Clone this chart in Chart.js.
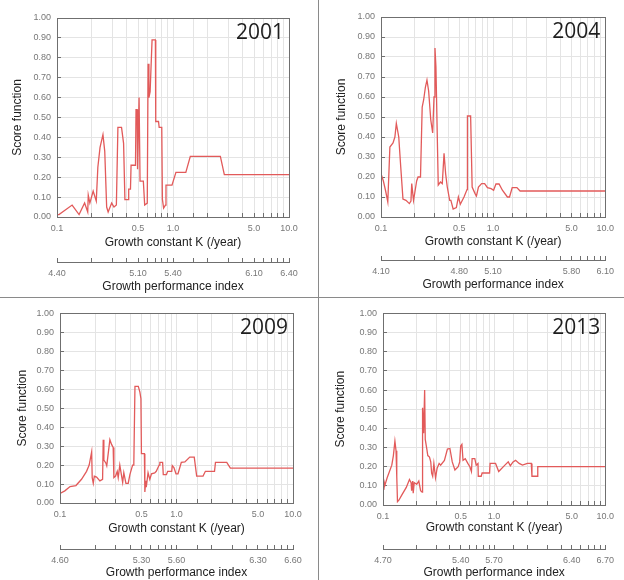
<!DOCTYPE html>
<html>
<head>
<meta charset="utf-8">
<script src="https://cdn.jsdelivr.net/npm/chart.js@4.4.1/dist/chart.umd.min.js"></script>
<style>
  body { margin: 0; background: #fff; }
  #wrap { position: relative; width: 624px; height: 580px; overflow: hidden; }
  canvas { position: absolute; }
  .vline { position: absolute; left: 318px; top: 0; width: 1px; height: 580px; background: #8a8a8a; }
  .hline { position: absolute; left: 0; top: 297px; width: 624px; height: 1px; background: #8a8a8a; }
</style>
</head>
<body>
<div id="wrap">
  <canvas id="c2001" width="312" height="297" style="left:0;top:0"></canvas>
  <canvas id="c2004" width="304" height="297" style="left:320px;top:0"></canvas>
  <canvas id="c2009" width="312" height="282" style="left:0;top:298px"></canvas>
  <canvas id="c2013" width="304" height="282" style="left:320px;top:298px"></canvas>
  <div class="vline"></div>
  <div class="hline"></div>
</div>
<script>
// labelled ticks, shared by both bottom axes
var kTicks = [0.1, 0.5, 1, 5, 10];
var kLabels = ['0.1', '0.5', '1.0', '5.0', '10.0'];

var phi2001 = ['4.40', '5.10', '5.40', '6.10', '6.40'];
var phi2004 = ['4.10', '4.80', '5.10', '5.80', '6.10'];
var phi2009 = ['4.60', '5.30', '5.60', '6.30', '6.60'];
var phi2013 = ['4.70', '5.40', '5.70', '6.40', '6.70'];

// score curves: K (/year) and score
var k2001 = [0.1, 0.104, 0.135, 0.155, 0.173, 0.184, 0.186, 0.192, 0.205, 0.218, 0.225, 0.235, 0.249, 0.258, 0.268, 0.276, 0.296, 0.31, 0.325, 0.335, 0.36, 0.375, 0.385, 0.41, 0.415, 0.43, 0.435, 0.475, 0.48, 0.49, 0.495, 0.51, 0.52, 0.555, 0.57, 0.6, 0.61, 0.62, 0.635, 0.66, 0.705, 0.71, 0.75, 0.76, 0.8, 0.81, 0.83, 0.86, 0.87, 0.98, 1.06, 1.29, 1.41, 2.56, 2.77, 10];
var s2001 = [0.012, 0.012, 0.06, 0.012, 0.07, 0.025, 0.11, 0.07, 0.13, 0.08, 0.25, 0.35, 0.414, 0.33, 0.05, 0.025, 0.07, 0.05, 0.06, 0.45, 0.45, 0.37, 0.087, 0.087, 0.14, 0.14, 0.26, 0.26, 0.54, 0.54, 0.24, 0.6, 0.18, 0.18, 0.06, 0.07, 0.77, 0.6, 0.63, 0.89, 0.89, 0.48, 0.48, 0.45, 0.45, 0.09, 0.045, 0.06, 0.16, 0.16, 0.224, 0.224, 0.305, 0.305, 0.213, 0.213];

var k2004 = [0.1, 0.105, 0.11, 0.115, 0.12, 0.128, 0.133, 0.137, 0.144, 0.15, 0.157, 0.167, 0.179, 0.185, 0.188, 0.195, 0.2, 0.208, 0.214, 0.225, 0.233, 0.24, 0.249, 0.257, 0.266, 0.278, 0.289, 0.297, 0.303, 0.309, 0.324, 0.339, 0.352, 0.365, 0.377, 0.39, 0.41, 0.42, 0.44, 0.47, 0.49, 0.51, 0.55, 0.585, 0.59, 0.63, 0.65, 0.69, 0.71, 0.74, 0.79, 0.84, 0.89, 0.96, 1.01, 1.06, 1.13, 1.21, 1.34, 1.4, 1.48, 1.63, 1.74, 10];
var s2004 = [0.217, 0.18, 0.13, 0.075, 0.35, 0.37, 0.4, 0.468, 0.4, 0.25, 0.09, 0.083, 0.067, 0.08, 0.167, 0.083, 0.12, 0.18, 0.2, 0.2, 0.55, 0.585, 0.65, 0.685, 0.63, 0.485, 0.42, 0.6, 0.845, 0.75, 0.16, 0.175, 0.167, 0.318, 0.217, 0.15, 0.083, 0.083, 0.04, 0.047, 0.1, 0.064, 0.1, 0.137, 0.505, 0.505, 0.15, 0.117, 0.105, 0.15, 0.167, 0.167, 0.147, 0.142, 0.134, 0.165, 0.165, 0.134, 0.1, 0.1, 0.147, 0.147, 0.13, 0.13];

var k2009 = [0.1, 0.11, 0.122, 0.137, 0.153, 0.169, 0.178, 0.187, 0.189, 0.193, 0.197, 0.206, 0.22, 0.232, 0.235, 0.238, 0.248, 0.252, 0.268, 0.277, 0.286, 0.29, 0.3, 0.31, 0.316, 0.326, 0.345, 0.353, 0.368, 0.385, 0.398, 0.42, 0.43, 0.44, 0.47, 0.485, 0.495, 0.5, 0.53, 0.535, 0.545, 0.55, 0.57, 0.59, 0.61, 0.65, 0.67, 0.71, 0.72, 0.76, 0.77, 0.82, 0.84, 0.91, 0.92, 0.95, 0.99, 1.03, 1.1, 1.18, 1.3, 1.42, 1.49, 1.69, 1.77, 2.12, 2.16, 2.7, 2.9, 10];
var s2009 = [0.05, 0.064, 0.087, 0.092, 0.125, 0.167, 0.2, 0.27, 0.134, 0.104, 0.142, 0.137, 0.117, 0.125, 0.334, 0.226, 0.21, 0.197, 0.334, 0.309, 0.293, 0.134, 0.142, 0.167, 0.134, 0.2, 0.109, 0.16, 0.104, 0.104, 0.15, 0.2, 0.2, 0.615, 0.615, 0.585, 0.55, 0.26, 0.26, 0.058, 0.117, 0.083, 0.16, 0.125, 0.154, 0.159, 0.167, 0.2, 0.214, 0.214, 0.15, 0.15, 0.167, 0.167, 0.197, 0.187, 0.154, 0.154, 0.214, 0.217, 0.242, 0.242, 0.142, 0.142, 0.167, 0.167, 0.214, 0.214, 0.184, 0.184];

var k2013 = [0.1, 0.102, 0.104, 0.109, 0.12, 0.124, 0.128, 0.131, 0.133, 0.135, 0.139, 0.147, 0.162, 0.173, 0.179, 0.181, 0.185, 0.187, 0.191, 0.201, 0.21, 0.218, 0.225, 0.227, 0.232, 0.237, 0.24, 0.248, 0.253, 0.262, 0.269, 0.274, 0.28, 0.287, 0.297, 0.307, 0.32, 0.33, 0.357, 0.38, 0.4, 0.42, 0.444, 0.475, 0.49, 0.5, 0.513, 0.525, 0.55, 0.58, 0.605, 0.625, 0.634, 0.67, 0.69, 0.716, 0.72, 0.765, 0.78, 0.91, 0.92, 1.03, 1.1, 1.25, 1.34, 1.4, 1.48, 1.56, 1.68, 1.8, 1.99, 2.16, 2.19, 2.45, 2.47, 10];
var s2013 = [0.083, 0.125, 0.103, 0.142, 0.208, 0.258, 0.333, 0.283, 0.15, 0.017, 0.025, 0.05, 0.092, 0.133, 0.117, 0.075, 0.125, 0.062, 0.117, 0.108, 0.125, 0.075, 0.067, 0.508, 0.375, 0.6, 0.342, 0.292, 0.258, 0.25, 0.225, 0.167, 0.15, 0.217, 0.142, 0.192, 0.217, 0.208, 0.233, 0.292, 0.295, 0.225, 0.183, 0.2, 0.225, 0.308, 0.317, 0.233, 0.242, 0.217, 0.2, 0.175, 0.242, 0.242, 0.208, 0.217, 0.15, 0.15, 0.167, 0.167, 0.217, 0.217, 0.175, 0.208, 0.225, 0.205, 0.225, 0.233, 0.217, 0.208, 0.217, 0.217, 0.15, 0.15, 0.2, 0.2];

var tickFont = { family: 'Liberation Sans', size: 9 };
var titleFont = { family: 'Liberation Sans', size: 12 };
var gridColor = '#e4e4e4';
var axisColor = '#6f6f6f';

// draws the frame round the plot and the year in its top right corner
var frameAndYear = {
  id: 'frameAndYear',
  afterDraw: function(chart) {
    var a = chart.chartArea, ctx = chart.ctx;
    ctx.save();
    ctx.strokeStyle = axisColor;
    ctx.lineWidth = 1;
    ctx.strokeRect(Math.round(a.left) + 0.5, Math.round(a.top) + 0.5, Math.round(a.right - a.left), Math.round(a.bottom - a.top));
    ctx.fillStyle = '#1e1e1e';
    ctx.font = '21px "Open Sans"';
    ctx.textAlign = 'right';
    ctx.textBaseline = 'middle';
    ctx.fillText(chart.options.plugins.frameAndYear.year, a.right - 5, a.top + 15);
    ctx.restore();
  }
};

function labelFor(value, labels) {
  for (var i = 0; i < kTicks.length; i++) {
    if (Math.abs(value - kTicks[i]) < 1e-9) return labels[i];
  }
  return '';
}

function makePanel(id, year, ks, scores, phi, box) {
  var pts = [];
  for (var i = 0; i < ks.length; i++) pts.push({ x: ks[i], y: scores[i] });

  new Chart(document.getElementById(id), {
    type: 'line',
    data: {
      datasets: [{
        data: pts,
        borderColor: '#e25a5a',
        borderWidth: 1.3,
        pointRadius: 0,
        tension: 0,
        fill: false
      }]
    },
    plugins: [frameAndYear],
    options: {
      responsive: false,
      animation: false,
      layout: { padding: { top: box.padT, right: box.padR, bottom: box.padB, left: 0 } },
      plugins: {
        legend: { display: false },
        tooltip: { enabled: false },
        frameAndYear: { year: year }
      },
      scales: {
        x: {
          type: 'logarithmic',
          position: 'bottom',
          weight: 0,
          min: 0.1,
          max: 10,
          grid: { color: gridColor, tickColor: axisColor, tickLength: -4 },
          border: { display: true, color: axisColor },
          ticks: {
            autoSkip: false, maxRotation: 0, padding: 10,
            font: tickFont, color: '#777',
            callback: function(v) { return labelFor(v, kLabels); }
          },
          title: { display: true, text: 'Growth constant K (/year)', font: titleFont, color: '#222', padding: { top: 0, bottom: box.xTitleB } },
          afterFit: function(s) { s.height = box.xH; }
        },
        x2: {
          type: 'logarithmic',
          axis: 'x',
          position: 'bottom',
          weight: 1,
          min: 0.1,
          max: 10,
          grid: { drawOnChartArea: false, color: axisColor, tickColor: axisColor, tickLength: -4 },
          border: { display: true, color: axisColor },
          ticks: {
            autoSkip: false, maxRotation: 0, padding: 10,
            font: tickFont, color: '#777',
            callback: function(v) { return labelFor(v, phi); }
          },
          title: { display: true, text: 'Growth performance index', font: titleFont, color: '#222', padding: { top: 0, bottom: box.x2TitleB } },
          afterFit: function(s) { s.height = box.x2H; }
        },
        y: {
          min: 0,
          max: 1,
          grid: { color: gridColor, tickColor: axisColor, tickLength: -4 },
          border: { display: true, color: axisColor },
          ticks: {
            stepSize: 0.1, padding: 10,
            font: tickFont, color: '#777',
            callback: function(v) { return v.toFixed(2); }
          },
          title: { display: true, text: 'Score function', font: titleFont, color: '#222', padding: { top: box.yTitleT, bottom: 0 } },
          afterFit: function(s) { s.width = box.yW; }
        }
      }
    }
  });
}

makePanel('c2001', '2001', k2001, s2001, phi2001, { yW: 57, padT: 18, padR: 23, padB: 2, xH: 45, x2H: 33, xTitleB: 12, x2TitleB: 1, yTitleT: 10 });
makePanel('c2004', '2004', k2004, s2004, phi2004, { yW: 61, padT: 17, padR: 10, padB: 4, xH: 43, x2H: 33, xTitleB: 11, x2TitleB: 1, yTitleT: 14 });
makePanel('c2009', '2009', k2009, s2009, phi2009, { yW: 60, padT: 6, padR: 19, padB: 0, xH: 46, x2H: 31, xTitleB: 13, x2TitleB: 0, yTitleT: 15 });
makePanel('c2013', '2013', k2013, s2013, phi2013, { yW: 63, padT: 7, padR: 9, padB: 0, xH: 44, x2H: 31, xTitleB: 14, x2TitleB: 0, yTitleT: 13 });
</script>
</body>
</html>
